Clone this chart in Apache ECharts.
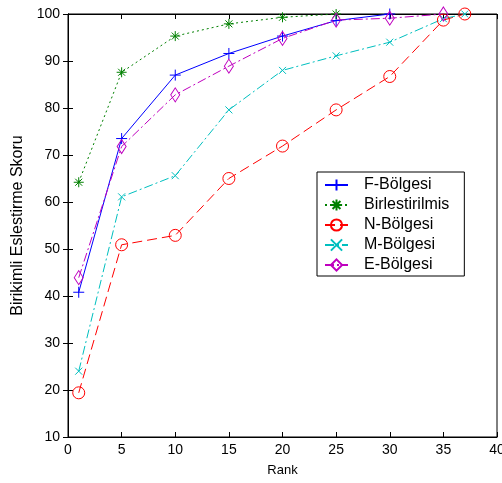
<!DOCTYPE html>
<html><head><meta charset="utf-8">
<script src="https://cdn.jsdelivr.net/npm/echarts@6/dist/echarts.min.js"></script>
<style>html,body{margin:0;padding:0;background:#fff}#c{width:502px;height:483px}</style>
</head><body><div id="c"></div>
<script>
const seriesNames = ['F-Bölgesi','Birlestirilmis','N-Bölgesi','M-Bölgesi','E-Bölgesi'];
const fRank = [1,5,10,15,20,25,30];
const fVals = [40.8,73.5,87,91.6,95.3,98.6,100];
const bRank = [1,5,10,15,20,25];
const bVals = [64.2,87.6,95.3,97.9,99.3,100];
const nRank = [1,5,10,15,20,25,30,35,37];
const nVals = [19.4,50.9,52.9,65,71.9,79.6,86.7,98.7,100];
const mRank = [1,5,10,15,20,25,30,35,37];
const mVals = [24,61.1,65.6,79.6,88,91.1,94,99,100];
const eRank = [1,5,10,15,20,25,30,35];
const eVals = [43.9,71.8,82.8,88.9,94.8,98.7,99.1,100];
const xTicks = [0,5,10,15,20,25,30,35,40];
const yTicks = [10,20,30,40,50,60,70,80,90,100];

const pair = (xs, ys) => xs.map((x,i)=>[x, ys[i]]);
const font = 'Liberation Sans, Arial, sans-serif';
const mk = (name, xs, ys, color, dash, symbol, size) => ({
  name, type:'line', data: pair(xs, ys), clip:false,
  symbol, symbolSize:size, symbolKeepAspect:false,
  lineStyle:{color, width:1, type:dash},
  itemStyle:{color:'rgba(0,0,0,0)', borderColor:color, borderWidth:1},
  emphasis:{disabled:true}, animation:false
});
const chart = echarts.init(document.getElementById('c'), null, {renderer:'canvas'});
chart.setOption({
  animation:false,
  backgroundColor:'#fff',
  grid:{left:68, top:14, right:5, bottom:46, outerBoundsMode:'none', containLabel:false,
    show:true, borderColor:'#000', borderWidth:1},
  xAxis:[{type:'value', min:0, max:40, interval:5, name:'Rank', nameLocation:'middle', nameGap:27,
    nameTextStyle:{fontFamily:font, fontSize:13, color:'#000'},
    axisLine:{show:true, lineStyle:{color:'#000'}}, axisTick:{inside:true, length:5, lineStyle:{color:'#000'}},
    axisLabel:{fontFamily:font, fontSize:14, color:'#000', margin:6, hideOverlap:false,
      formatter:v=>xTicks.includes(v)?String(v):''},
    splitLine:{show:false}},
   {type:'value', position:'top', min:0, max:40, interval:5, axisLine:{show:true, lineStyle:{color:'#000'}},
    axisTick:{inside:true, length:5, lineStyle:{color:'#000'}}, axisLabel:{show:false}, splitLine:{show:false}}],
  yAxis:[{type:'value', min:10, max:100, interval:10, name:'Birikimli Eslestirme Skoru', nameLocation:'middle', nameGap:37,
    nameTextStyle:{fontFamily:font, fontSize:16, color:'#000'},
    axisLine:{show:true, lineStyle:{color:'#000'}}, axisTick:{inside:true, length:5, lineStyle:{color:'#000'}},
    axisLabel:{fontFamily:font, fontSize:14, color:'#000', margin:8,
      formatter:v=>yTicks.includes(v)?String(v):''},
    splitLine:{show:false}},
   {type:'value', position:'right', min:10, max:100, interval:10, axisLine:{show:true, lineStyle:{color:'#000'}},
    axisTick:{inside:true, length:5, lineStyle:{color:'#000'}}, axisLabel:{show:false}, splitLine:{show:false}}],
  legend:{orient:'vertical', left:317, top:172, backgroundColor:'#fff', borderColor:'#000', borderWidth:1,
    padding:[5,15,3,7], itemWidth:23, itemHeight:14, itemGap:4,
    textStyle:{fontFamily:font, fontSize:16, lineHeight:14, color:'#000', padding:[0,0,0,11]},
    data:seriesNames, selectedMode:false},
  series:[
    mk(seriesNames[0], fRank, fVals, '#0000ff', 'solid', 'path://M5,0L5,10M0,5L10,5', 11),
    mk(seriesNames[1], bRank, bVals, '#008000', [2,3], 'path://M5,0L5,10M0,5L10,5M1.5,1.5L8.5,8.5M8.5,1.5L1.5,8.5', 10),
    mk(seriesNames[2], nRank, nVals, '#ff0000', [10,5], 'circle', 12),
    mk(seriesNames[3], mRank, mVals, '#00bfbf', [9,3,2,3], 'path://M0,0L10,10M10,0L0,10', 7),
    mk(seriesNames[4], eRank, eVals, '#bf00bf', [9,3,2,3], 'path://M5,0L10,10L5,20L0,10Z', [9,14])
  ]
});
</script></body></html>
